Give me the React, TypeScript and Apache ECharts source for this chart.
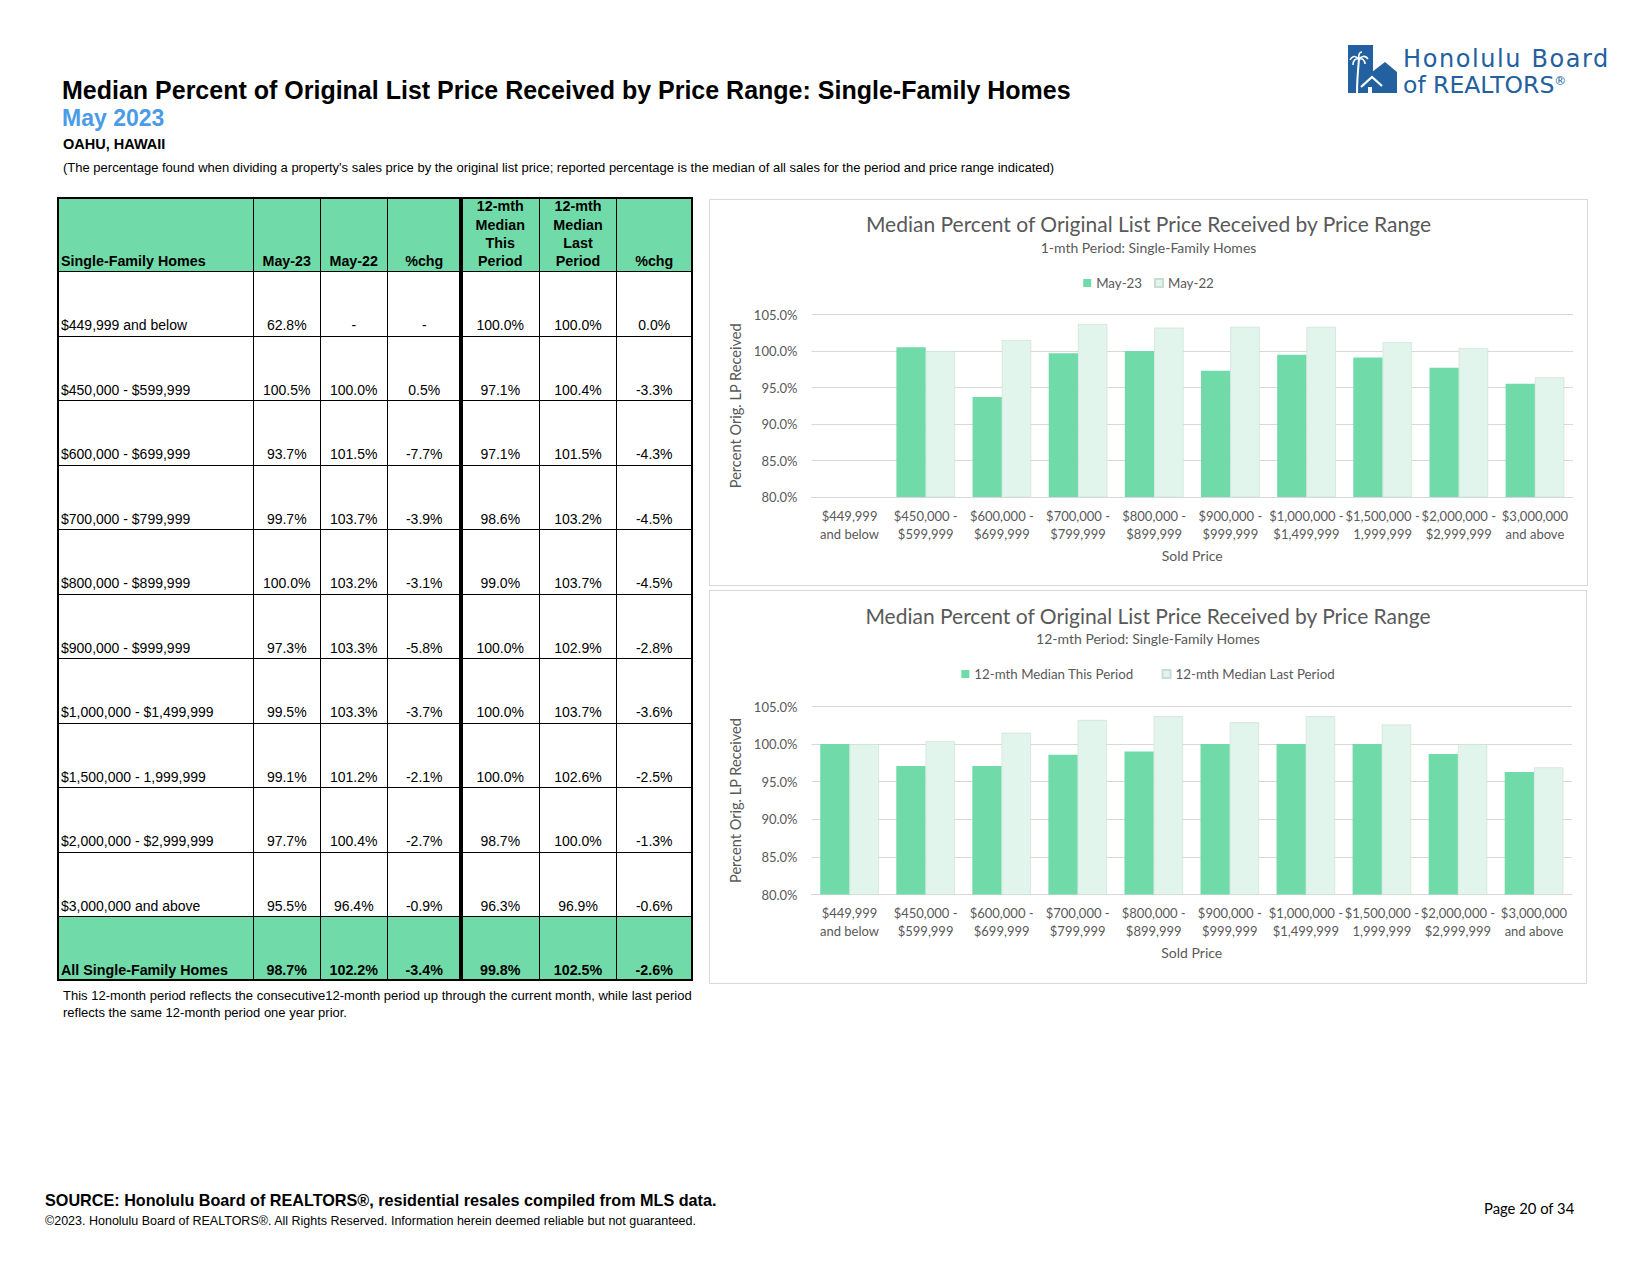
import React, { useEffect, useRef } from "react";
import * as echarts from "echarts";

// ---------------- DATA ----------------
const priceRanges = [
  "$449,999 and below",
  "$450,000 - $599,999",
  "$600,000 - $699,999",
  "$700,000 - $799,999",
  "$800,000 - $899,999",
  "$900,000 - $999,999",
  "$1,000,000 - $1,499,999",
  "$1,500,000 - 1,999,999",
  "$2,000,000 - $2,999,999",
  "$3,000,000 and above",
];
const axisCategories = [
  "$449,999\nand below",
  "$450,000 -\n$599,999",
  "$600,000 -\n$699,999",
  "$700,000 -\n$799,999",
  "$800,000 -\n$899,999",
  "$900,000 -\n$999,999",
  "$1,000,000 -\n$1,499,999",
  "$1,500,000 -\n1,999,999",
  "$2,000,000 -\n$2,999,999",
  "$3,000,000\nand above",
];
const may23 = [62.8, 100.5, 93.7, 99.7, 100.0, 97.3, 99.5, 99.1, 97.7, 95.5];
const may22 = [null, 100.0, 101.5, 103.7, 103.2, 103.3, 103.3, 101.2, 100.4, 96.4];
const chg1mth = [null, 0.5, -7.7, -3.9, -3.1, -5.8, -3.7, -2.1, -2.7, -0.9];
const median12This = [100.0, 97.1, 97.1, 98.6, 99.0, 100.0, 100.0, 100.0, 98.7, 96.3];
const median12Last = [100.0, 100.4, 101.5, 103.2, 103.7, 102.9, 103.7, 102.6, 100.0, 96.9];
const chg12mth = [0.0, -3.3, -4.3, -4.5, -4.5, -2.8, -3.6, -2.5, -1.3, -0.6];
const totalLabel = "All Single-Family Homes";
const totalValues = [98.7, 102.2, -3.4, 99.8, 102.5, -2.6];
const tableHeaders = [
  "Single-Family Homes",
  "May-23",
  "May-22",
  "%chg",
  "12-mth\nMedian\nThis\nPeriod",
  "12-mth\nMedian\nLast\nPeriod",
  "%chg",
];
const legend1 = ["May-23", "May-22"];
const legend2 = ["12-mth Median This Period", "12-mth Median Last Period"];
const yMin = 80;
const yMax = 105;
const yStep = 5;

// ---------------- STYLE ----------------
const GREEN = "#70DBA8";
const PALE = "#E2F5EC";
const GREY_TXT = "#595959";
const CFONT = 'Lato, "Open Sans", sans-serif';
const TFONT = '"Liberation Sans", Arial, sans-serif';

const fmt = (v: number | null) => (v === null || v === undefined ? "-" : v.toFixed(1) + "%");

function buildOption(p: any) {
  return {
    animation: false,
    backgroundColor: "#ffffff",
    textStyle: { fontFamily: CFONT },
    title: {
      text: p.title,
      subtext: p.subtitle,
      left: "center",
      top: p.titleTop,
      padding: 0,
      itemGap: p.titleGap,
      textStyle: { fontFamily: CFONT, fontSize: 21, fontWeight: "normal", color: GREY_TXT, lineHeight: 26 },
      subtextStyle: { fontFamily: CFONT, fontSize: 14, color: GREY_TXT, lineHeight: 18 },
    },
    legend: {
      top: p.legendTop,
      left: "center",
      padding: 0,
      itemGap: p.legendGap,
      itemWidth: 8,
      itemHeight: 8,
      itemTextGap: 5,
      icon: "rect",
      textStyle: { fontFamily: CFONT, fontSize: 13.3, color: GREY_TXT, lineHeight: 16 },
      data: p.names,
    },
    grid: { left: p.gridLeft, right: p.gridRight, top: p.gridTop, height: p.gridHeight },
    xAxis: {
      type: "category",
      data: axisCategories,
      axisLine: { lineStyle: { color: "#d9d9d9" } },
      axisTick: { show: false },
      axisLabel: {
        interval: 0,
        color: GREY_TXT,
        fontFamily: CFONT,
        fontSize: 13,
        lineHeight: 17.7,
        margin: 10,
      },
      name: "Sold Price",
      nameLocation: "middle",
      nameGap: 51,
      nameTextStyle: { fontFamily: CFONT, fontSize: 14, color: GREY_TXT },
    },
    yAxis: {
      type: "value",
      min: yMin,
      max: yMax,
      interval: yStep,
      axisLine: { show: false },
      axisTick: { show: false },
      axisLabel: {
        formatter: (v: number) => v.toFixed(1) + "%",
        color: GREY_TXT,
        fontFamily: CFONT,
        fontSize: 13,
        margin: 14,
      },
      splitLine: { lineStyle: { color: "#d9d9d9" } },
      name: "Percent Orig. LP Received",
      nameLocation: "middle",
      nameRotate: 90,
      nameGap: 60,
      nameTextStyle: { fontFamily: CFONT, fontSize: 14.6, color: GREY_TXT },
    },
    series: [
      {
        name: p.names[0],
        type: "bar",
        data: p.a,
        barGap: "0%",
        barCategoryGap: "23%",
        clip: true,
        itemStyle: { color: GREEN },
      },
      {
        name: p.names[1],
        type: "bar",
        data: p.b,
        barGap: "0%",
        barCategoryGap: "23%",
        clip: true,
        itemStyle: { color: PALE, borderColor: "#c9ddd4", borderWidth: 0.6 },
      },
    ],
  };
}

function EChart({ box, option }: any) {
  const ref = useRef<HTMLDivElement>(null);
  useEffect(() => {
    const chart = echarts.init(ref.current as HTMLDivElement, null, { renderer: "svg" });
    chart.setOption(option);
    return () => chart.dispose();
  }, []);
  return (
    <div
      ref={ref}
      style={{
        position: "absolute",
        left: box.left,
        top: box.top,
        width: box.width,
        height: box.height,
        border: "1px solid #d9d9d9",
      }}
    />
  );
}

function Logo() {
  const blue = "#22609f";
  const logoFont = '"DejaVu Sans", "Open Sans", sans-serif';
  return (
    <>
      <svg
        style={{ position: "absolute", left: 1346, top: 40 }}
        width={56}
        height={60}
        viewBox="0 0 56 60"
      >
        <rect x={2} y={5} width={25} height={48} fill={blue} />
        <polygon points="26,53 26,32 39,22 51,32 51,53" fill={blue} />
        <path d="M11,53 C11,40 12,30 13,19" stroke="#fff" strokeWidth={2} fill="none" />
        <path d="M13,19 C9,15 6,16 4,20 M13,19 C9,18 7,21 7,25 M13,19 C17,15 20,16 22,19 M13,19 C17,18 19,21 19,24 M13,19 C12,14 14,12 16,12" stroke="#fff" strokeWidth={1.6} fill="none" />
        <polyline points="15,47 26,37 36,46" stroke="#fff" strokeWidth={2.2} fill="none" />
        <rect x={22} y={47} width={4} height={6} fill="#fff" />
      </svg>
      <div
        style={{
          position: "absolute",
          left: 1403,
          top: 49.2,
          height: 21.5,
          fontFamily: logoFont,
          fontSize: 24,
          letterSpacing: 1.6,
          lineHeight: "21.5px",
          color: blue,
          whiteSpace: "nowrap",
        }}
      >
        Honolulu Board
      </div>
      <div
        style={{
          position: "absolute",
          left: 1403,
          top: 71.2,
          height: 21.5,
          fontFamily: logoFont,
          fontSize: 23.5,
          lineHeight: "21.5px",
          color: blue,
          whiteSpace: "nowrap",
        }}
      >
        of REALTORS<span style={{ fontSize: 12, verticalAlign: "8px" }}>®</span>
      </div>
    </>
  );
}

function DataTable() {
  const colX = [58, 253.5, 320, 387.5, 461, 539.5, 616.5, 692];
  const rowEdges: number[] = [197.5, 271.5];
  for (let i = 1; i <= priceRanges.length; i++) rowEdges.push(271.5 + i * 64.5);
  rowEdges.push(979.5);

  const rows: any[][] = [];
  rows.push(tableHeaders);
  priceRanges.forEach((r, i) => {
    rows.push([r, fmt(may23[i]), fmt(may22[i]), fmt(chg1mth[i]), fmt(median12This[i]), fmt(median12Last[i]), fmt(chg12mth[i])]);
  });
  rows.push([totalLabel, ...totalValues.map((v) => fmt(v))]);

  const cells: any[] = [];
  rows.forEach((row, r) => {
    const isHead = r === 0;
    const isTotal = r === rows.length - 1;
    row.forEach((txt: string, c: number) => {
      cells.push(
        <div
          key={`c${r}-${c}`}
          style={{
            position: "absolute",
            left: colX[c],
            top: rowEdges[r],
            width: colX[c + 1] - colX[c],
            height: rowEdges[r + 1] - rowEdges[r],
            boxSizing: "border-box",
            display: "flex",
            alignItems: "flex-end",
            justifyContent: c === 0 ? "flex-start" : "center",
            paddingLeft: c === 0 ? 3 : 0,
            paddingBottom: isHead ? 1 : isTotal ? 1 : 2,
            overflow: isHead ? "visible" : "hidden",
            background: isHead || isTotal ? GREEN : "transparent",
            fontFamily: TFONT,
            fontWeight: isHead || isTotal ? "bold" : "normal",
            fontSize: isHead ? 14.3 : isTotal ? 14.3 : 14,
            lineHeight: isHead ? "18.3px" : "17px",
            whiteSpace: "pre",
            textAlign: "center",
            color: "#000",
          }}
        >
          {txt}
        </div>
      );
    });
  });

  const lines: any[] = [];
  rowEdges.slice(1, -1).forEach((y, i) => {
    lines.push(
      <div key={`h${i}`} style={{ position: "absolute", left: 58, top: y - 0.5, width: 634, height: 1, background: "#000" }} />
    );
  });
  colX.slice(1, -1).forEach((x, i) => {
    const w = i === 3 ? 4 : 1;
    lines.push(
      <div key={`v${i}`} style={{ position: "absolute", left: x - w / 2, top: 197.5, width: w, height: 782, background: "#000" }} />
    );
  });
  lines.push(
    <div
      key="outer"
      style={{
        position: "absolute",
        left: 57,
        top: 196.5,
        width: 636,
        height: 784,
        boxSizing: "border-box",
        border: "2px solid #000",
      }}
    />
  );
  return (
    <>
      {cells}
      {lines}
    </>
  );
}

const opt1 = buildOption({
  title: "Median Percent of Original List Price Received by Price Range",
  subtitle: "1-mth Period: Single-Family Homes",
  titleTop: 10,
  titleGap: 2,
  legendTop: 75,
  legendGap: 12,
  names: legend1,
  a: may23,
  b: may22,
  gridLeft: 101.5,
  gridRight: 14,
  gridTop: 114.5,
  gridHeight: 182.5,
});

const opt2 = buildOption({
  title: "Median Percent of Original List Price Received by Price Range",
  subtitle: "12-mth Period: Single-Family Homes",
  titleTop: 11.5,
  titleGap: 1,
  legendTop: 75,
  legendGap: 28,
  names: legend2,
  a: median12This,
  b: median12Last,
  gridLeft: 101.5,
  gridRight: 14,
  gridTop: 115.5,
  gridHeight: 188,
});

export default function App() {
  return (
    <div
      style={{
        position: "absolute",
        left: 0,
        top: 0,
        width: 1650,
        height: 1275,
        background: "#fff",
        overflow: "hidden",
        fontFamily: TFONT,
        color: "#000",
      }}
    >
      <div style={{ position: "absolute", left: 62, top: 74.5, fontSize: 25, fontWeight: "bold", lineHeight: "30px", whiteSpace: "nowrap" }}>
        Median Percent of Original List Price Received by Price Range: Single-Family Homes
      </div>
      <div style={{ position: "absolute", left: 62, top: 104, fontSize: 23, fontWeight: "bold", lineHeight: "28px", color: "#4b9be6", whiteSpace: "nowrap" }}>
        May 2023
      </div>
      <div style={{ position: "absolute", left: 63, top: 135, fontSize: 14.5, fontWeight: "bold", lineHeight: "18px", whiteSpace: "nowrap" }}>
        OAHU, HAWAII
      </div>
      <div style={{ position: "absolute", left: 63, top: 158.5, fontSize: 13, lineHeight: "17px", whiteSpace: "nowrap" }}>
        (The percentage found when dividing a property's sales price by the original list price; reported percentage is the median of all sales for the period and price range indicated)
      </div>

      <Logo />

      <DataTable />

      <div style={{ position: "absolute", left: 63, top: 986.5, fontSize: 13, lineHeight: "17.5px", whiteSpace: "nowrap" }}>
        This 12-month period reflects the consecutive12-month period up through the current month, while last period
        <br />
        reflects the same 12-month period one year prior.
      </div>

      <EChart box={{ left: 709, top: 199, width: 877, height: 385 }} option={opt1} />
      <EChart box={{ left: 709, top: 589.5, width: 876, height: 392 }} option={opt2} />

      <div style={{ position: "absolute", left: 45, top: 1190, fontSize: 16.2, fontWeight: "bold", lineHeight: "20px", whiteSpace: "nowrap" }}>
        SOURCE: Honolulu Board of REALTORS®, residential resales compiled from MLS data.
      </div>
      <div style={{ position: "absolute", left: 45, top: 1213, fontSize: 12.5, lineHeight: "16px", whiteSpace: "nowrap" }}>
        ©2023. Honolulu Board of REALTORS®. All Rights Reserved. Information herein deemed reliable but not guaranteed.
      </div>
      <div style={{ position: "absolute", left: 1484, top: 1199, fontSize: 14.8, lineHeight: "18px", fontFamily: CFONT, whiteSpace: "nowrap" }}>
        Page 20 of 34
      </div>
    </div>
  );
}
